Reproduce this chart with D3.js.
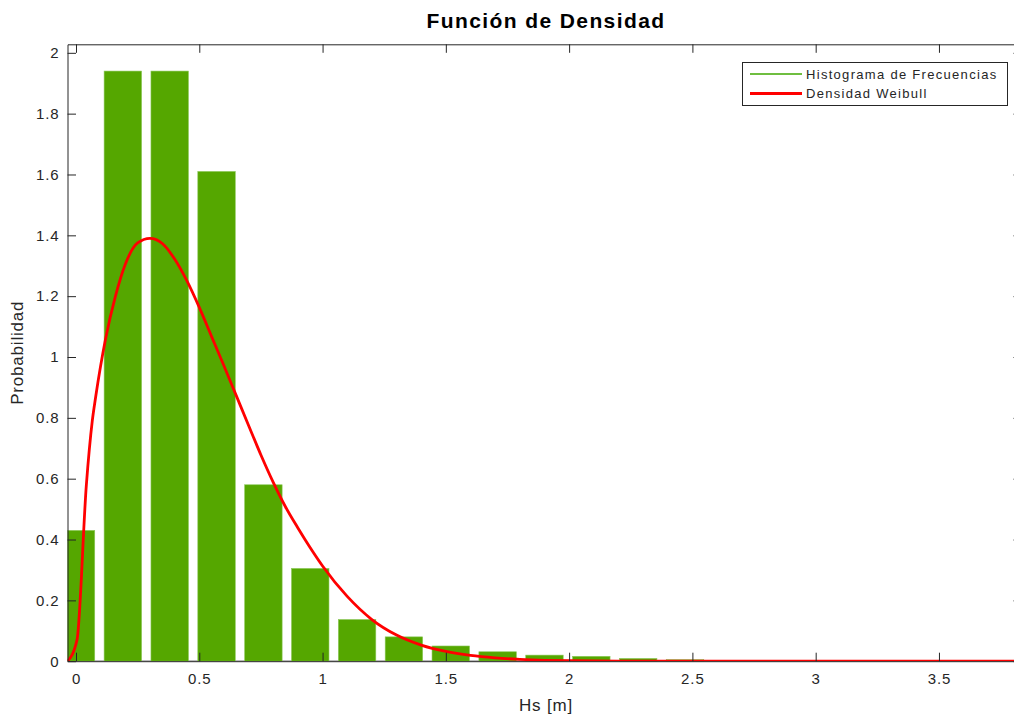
<!DOCTYPE html>
<html>
<head>
<meta charset="utf-8">
<script src="https://cdn.jsdelivr.net/npm/d3@7"></script>
<style>
  body { margin: 0; background: #fff; }
  text { font-family: "Liberation Sans", Arial, Helvetica, sans-serif; fill: #262626; }
  .axis path, .axis line { stroke: #262626; stroke-width: 1; }
  .axis text { font-size: 15px; letter-spacing: 0.9px; fill: #262626; }
</style>
</head>
<body>
<div id="chart"></div>
<script>
// histogram (bin centres, probability density)
var binCenters = [0, 0.19, 0.38, 0.57, 0.76, 0.95, 1.14, 1.33, 1.52, 1.71, 1.90, 2.09, 2.28, 2.47];
var binValues  = [0.43, 1.94, 1.94, 1.61, 0.58, 0.305, 0.137, 0.08, 0.05, 0.031, 0.02, 0.016, 0.009, 0.005];
var binWidth = 0.152;

// weibull density
var curveX = [-0.0345, 0.004, 0.042, 0.066, 0.08, 0.12, 0.16, 0.2, 0.25, 0.3, 0.35, 0.4, 0.45, 0.5, 0.55,
              0.6, 0.65, 0.7, 0.75, 0.8, 0.85, 0.9, 0.95, 1.0, 1.1, 1.2, 1.3, 1.4, 1.5, 1.6, 1.7,
              1.8, 1.9, 2.0, 2.2, 2.5, 3.0, 3.5, 3.84];
var curveY = [0, 0.07, 0.58, 0.79, 0.87, 1.06, 1.2, 1.305, 1.375, 1.39, 1.373, 1.322, 1.25, 1.163, 1.067,
              0.971, 0.873, 0.775, 0.678, 0.588, 0.507, 0.438, 0.373, 0.313, 0.213, 0.137, 0.086, 0.053, 0.032, 0.019, 0.011,
              0.006, 0.003, 0.0015, 0.0003, 0, 0, 0, 0];

var xTicks = [0, 0.5, 1, 1.5, 2, 2.5, 3, 3.5];
var xTickLabels = ["0", "0.5", "1", "1.5", "2", "2.5", "3", "3.5"];
var yTicks = [0, 0.2, 0.4, 0.6, 0.8, 1, 1.2, 1.4, 1.6, 1.8, 2];
var yTickLabels = ["0", "0.2", "0.4", "0.6", "0.8", "1", "1.2", "1.4", "1.6", "1.8", "2"];

var legendNames = ["Histograma de Frecuencias", "Densidad Weibull"];

var width = 1014,
    height = 719;

var plotLeft = 67.5, plotRight = 1022, plotTop = 44.3, plotBottom = 661.2;

var svg = d3.select("#chart")
    .append("svg")
    .attr("width", width)
    .attr("height", height);

var x = d3.scaleLinear()
    .domain([-0.0345, 3.8368])
    .range([plotLeft, plotRight]);

var y = d3.scaleLinear()
    .domain([0, 2.028])
    .range([plotBottom, plotTop]);

svg.append("clipPath")
    .attr("id", "plotClip")
  .append("rect")
    .attr("x", plotLeft)
    .attr("y", plotTop)
    .attr("width", plotRight - plotLeft)
    .attr("height", plotBottom - plotTop);

var plot = svg.append("g").attr("clip-path", "url(#plotClip)");

// bar baseline
plot.append("line")
    .attr("x1", plotLeft).attr("x2", plotRight)
    .attr("y1", y(0)).attr("y2", y(0))
    .attr("stroke", "#262626")
    .attr("stroke-width", 1);

plot.selectAll(".bar")
    .data(binCenters)
    .enter().append("rect")
      .attr("class", "bar")
      .attr("x", function(d) { return x(d - binWidth / 2); })
      .attr("width", function(d) { return x(binWidth) - x(0); })
      .attr("y", function(d, i) { return y(binValues[i]); })
      .attr("height", function(d, i) { return y(0) - y(binValues[i]); })
      .attr("fill", "#55a700")
      .attr("stroke", "#8cc85a")
      .attr("stroke-width", 0.6);

var line = d3.line()
    .x(function(d) { return x(d[0]); })
    .y(function(d) { return y(d[1]); })
    .curve(d3.curveMonotoneX);

plot.append("path")
    .datum(d3.zip(curveX, curveY))
    .attr("d", line)
    .attr("fill", "none")
    .attr("stroke", "#ff0000")
    .attr("stroke-width", 2.8)
    .attr("stroke-linejoin", "round");

// axes, ticks pointing inward on all four sides
svg.append("g")
    .attr("class", "axis")
    .attr("transform", "translate(0," + plotBottom + ")")
    .call(d3.axisBottom(x).tickValues(xTicks)
      .tickFormat(function(d, i) { return xTickLabels[i]; })
      .tickSizeInner(-8.5).tickSizeOuter(0).tickPadding(12));

svg.append("g")
    .attr("class", "axis")
    .attr("transform", "translate(0," + plotTop + ")")
    .call(d3.axisTop(x).tickValues(xTicks).tickFormat("")
      .tickSizeInner(-8.5).tickSizeOuter(0));

svg.append("g")
    .attr("class", "axis")
    .attr("transform", "translate(" + plotLeft + ",0)")
    .call(d3.axisLeft(y).tickValues(yTicks)
      .tickFormat(function(d, i) { return yTickLabels[i]; })
      .tickSizeInner(-8.5).tickSizeOuter(0).tickPadding(8));

svg.append("g")
    .attr("class", "axis")
    .attr("transform", "translate(" + plotRight + ",0)")
    .call(d3.axisRight(y).tickValues(yTicks).tickFormat("")
      .tickSizeInner(-8.5).tickSizeOuter(0));

svg.selectAll(".axis text").attr("fill", "#262626");

// title and labels
svg.append("text")
    .attr("x", 546)
    .attr("y", 28)
    .attr("text-anchor", "middle")
    .style("font-size", "21px")
    .style("font-weight", "bold")
    .style("letter-spacing", "1.4px")
    .style("fill", "#000")
    .text("Función de Densidad");

svg.append("text")
    .attr("x", 546)
    .attr("y", 711)
    .attr("text-anchor", "middle")
    .style("font-size", "17px")
    .style("letter-spacing", "0.8px")
    .text("Hs [m]");

svg.append("text")
    .attr("transform", "translate(23," + ((plotTop + plotBottom) / 2) + ") rotate(-90)")
    .attr("text-anchor", "middle")
    .style("font-size", "17px")
    .style("letter-spacing", "0.8px")
    .text("Probabilidad");

// legend
var legend = svg.append("g");

legend.append("rect")
    .attr("x", 742.5).attr("y", 62.5)
    .attr("width", 265).attr("height", 43)
    .attr("fill", "#fff")
    .attr("stroke", "#262626")
    .attr("stroke-width", 1);

var legendColors = ["#3fa800", "#ff0000"];
var legendWidths = [1.5, 2.8];

legend.selectAll(".legLine")
    .data(legendNames)
    .enter().append("line")
      .attr("class", "legLine")
      .attr("x1", 750).attr("x2", 802)
      .attr("y1", function(d, i) { return 74 + i * 19.5; })
      .attr("y2", function(d, i) { return 74 + i * 19.5; })
      .attr("stroke", function(d, i) { return legendColors[i]; })
      .attr("stroke-width", function(d, i) { return legendWidths[i]; });

legend.selectAll(".legText")
    .data(legendNames)
    .enter().append("text")
      .attr("class", "legText")
      .attr("x", 806)
      .attr("y", function(d, i) { return 74 + i * 19.5; })
      .attr("dy", ".35em")
      .style("font-size", "13px")
      .style("letter-spacing", "1.3px")
      .text(function(d) { return d; });
</script>
</body>
</html>
